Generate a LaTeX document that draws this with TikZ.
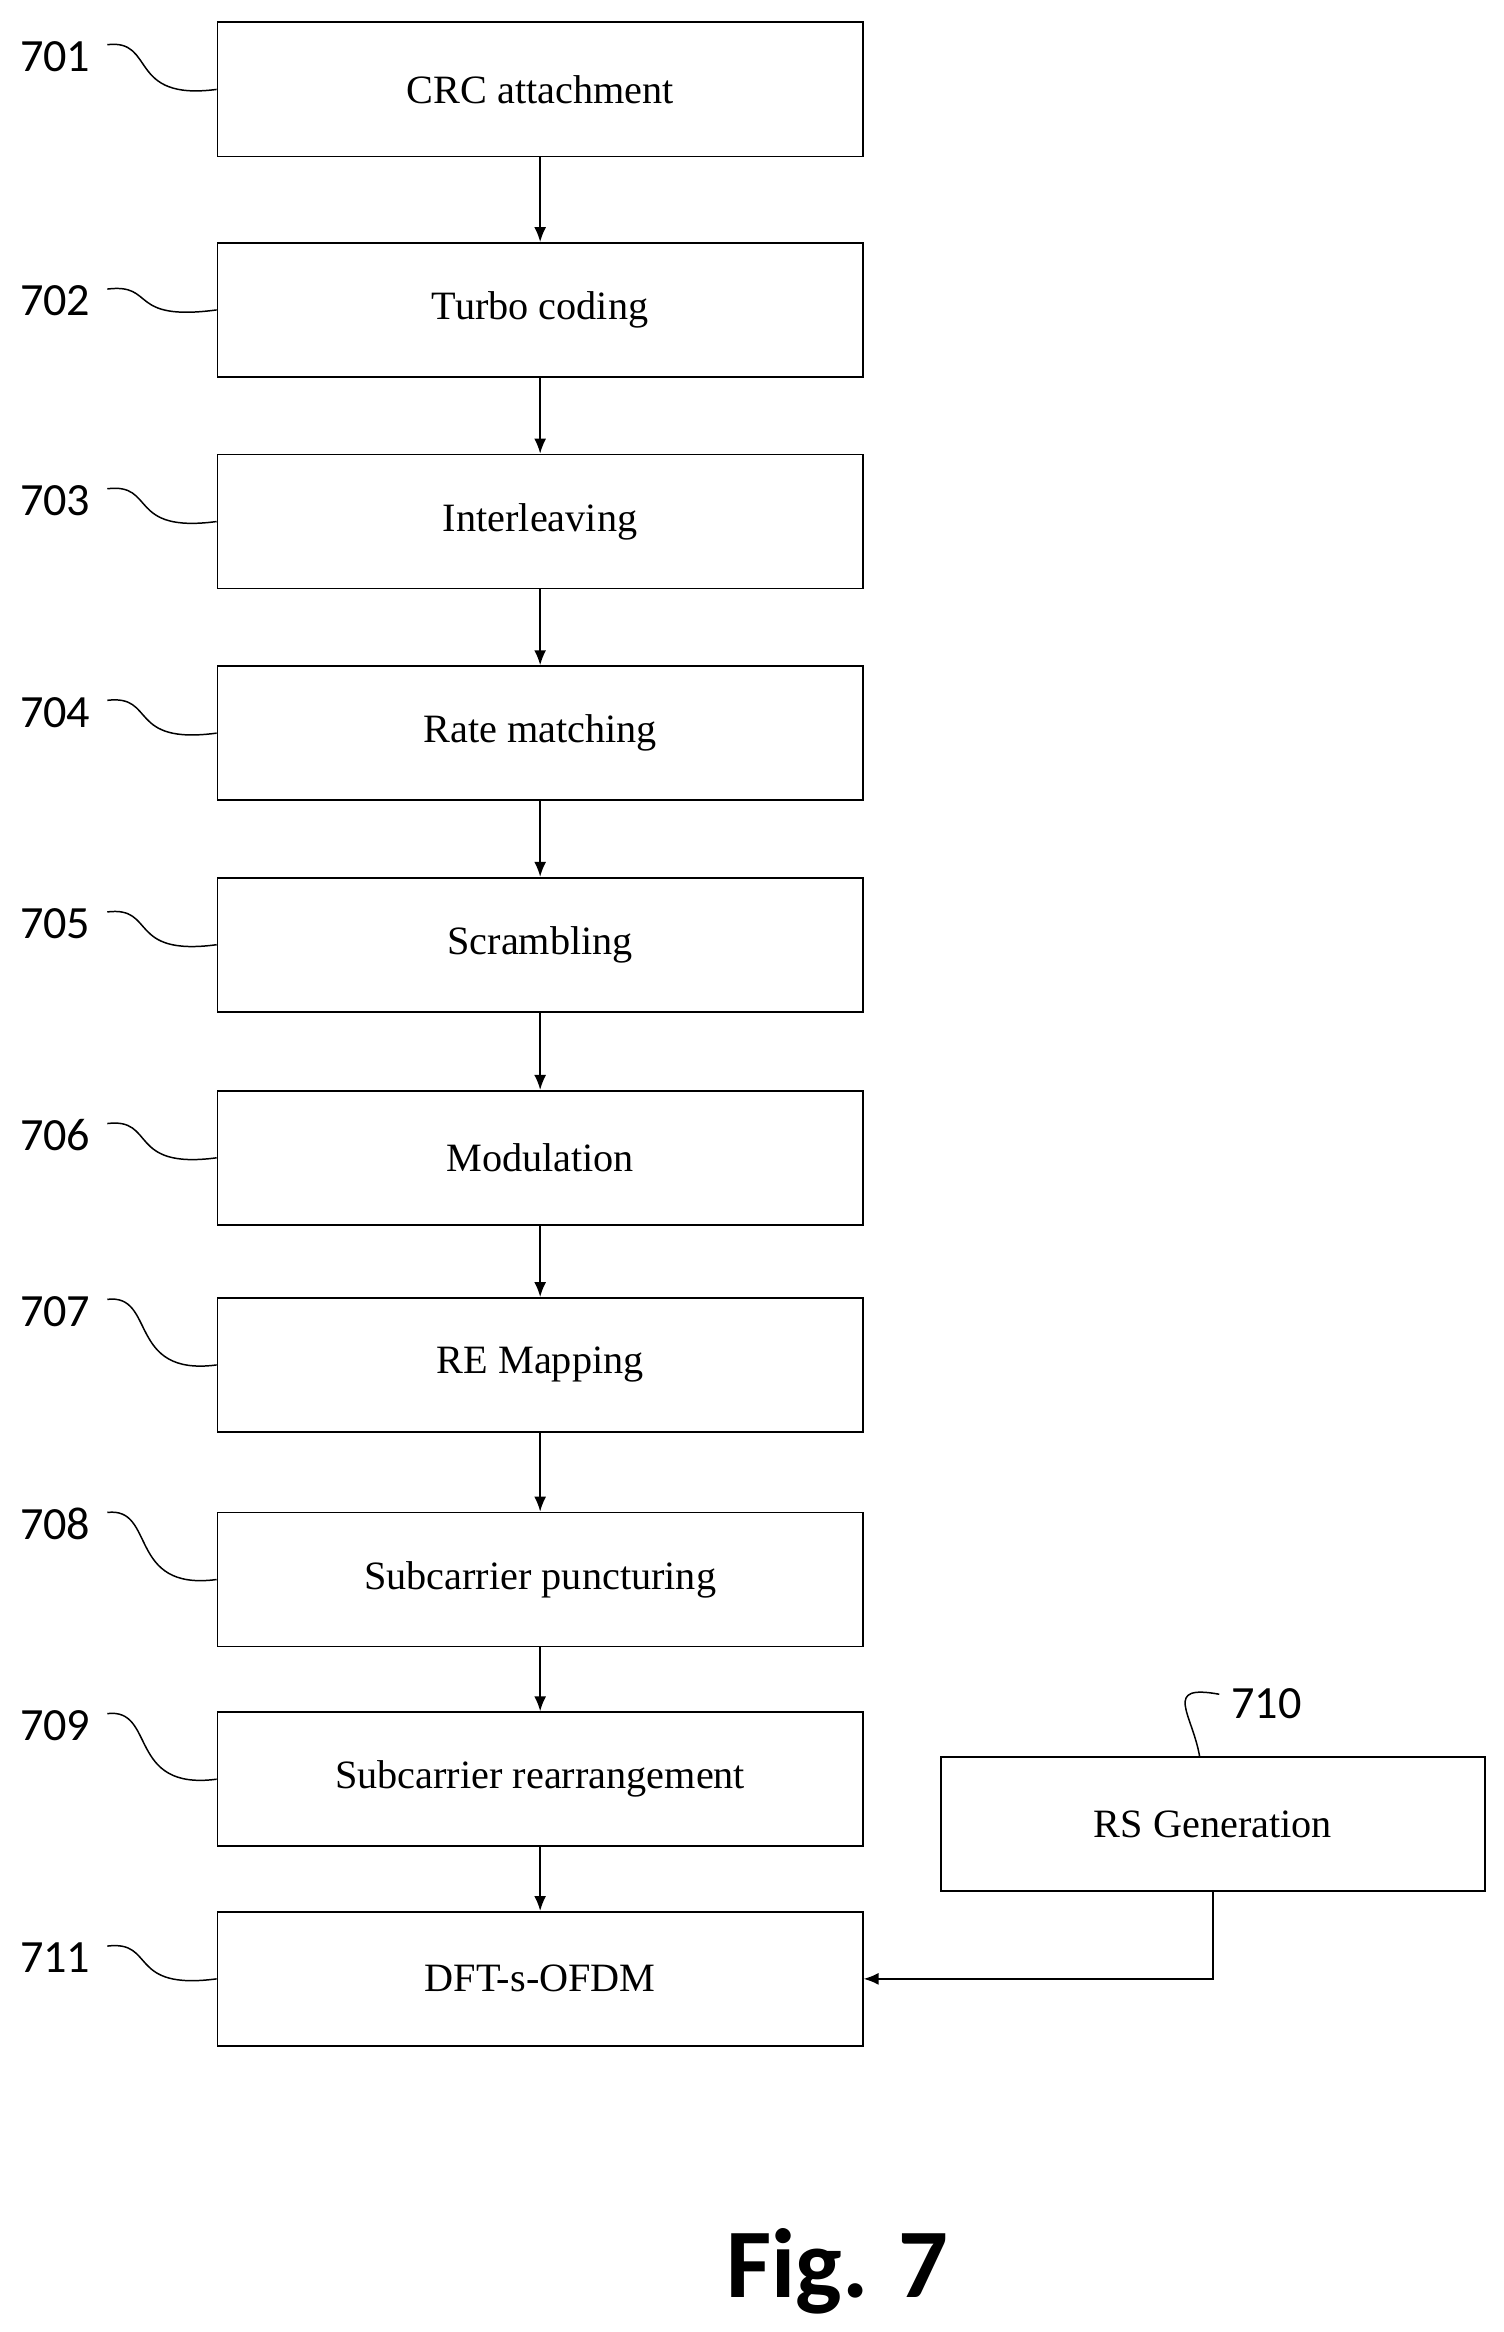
\documentclass[tikz,border=0pt]{standalone}
\usepackage{fontspec}
\usetikzlibrary{arrows.meta}
\setmainfont{Liberation Serif}
\newfontfamily\lblfont{Carlito}
\begin{document}
\begin{tikzpicture}[x=1pt,y=-1pt,
  box/.style={draw,line width=1.2pt,minimum width=433pt,minimum height=90pt,inner sep=0pt,font=\fontsize{27}{30}\selectfont},
  lbl/.style={font=\lblfont\fontsize{31}{33}\selectfont,inner sep=0pt},
  arr/.style={-{Latex[length=10pt,width=8pt]},line width=1.1pt},
  lead/.style={line width=1pt}]
\useasboundingbox (0,0) rectangle (1009,1565);
\node[box] (b1) at (362.5,60) {CRC attachment};
\node[box] (b2) at (362.5,208) {Turbo coding};
\node[box] (b3) at (362.5,350) {Interleaving};
\node[box] (b4) at (362.5,492) {Rate matching};
\node[box] (b5) at (362.5,634) {Scrambling};
\node[box] (b6) at (362.5,777) {Modulation};
\node[box] (b7) at (362.5,916) {RE Mapping};
\node[box] (b8) at (362.5,1060) {Subcarrier puncturing};
\node[box] (b9) at (362.5,1194) {Subcarrier rearrangement};
\node[box] (b11) at (362.5,1328) {DFT-s-OFDM};
\node[box,minimum width=365pt] (b10) at (814,1224) {RS Generation};
\foreach \a/\b in {b1/b2,b2/b3,b3/b4,b4/b5,b5/b6,b6/b7,b7/b8,b8/b9,b9/b11}
  \draw[arr] (\a.south) -- (\b.north);
\coordinate (c10) at (b10.south |- b11.east);
\draw[arr] (b10.south) -- (c10) -- (b11.east);
\foreach \n/\t/\y/\ly in {b1/701/38/60, b2/702/202/208, b3/703/336/350, b4/704/478/492, b5/705/620/634, b6/706/762/777, b7/707/880/916, b8/708/1023/1060, b9/709/1158/1194, b11/711/1314/1328}{
  \node[lbl] (l\t) at (37,\y) {\t};
  \draw[lead] (72,\y-8) .. controls (105,\y-12) and (85,\ly+8) .. (\n.west |- 0,\ly);
}
\node[lbl] (l710) at (850,1143) {710};
\draw[lead] (l710.west) ++(-8,-6) .. controls (780,1130) and (800,1150) .. (b10.north -| 805,0);
\node[font=\lblfont\bfseries\fontsize{66}{70}\selectfont] (fig) at (562,1524) {Fig. 7};
\end{tikzpicture}
\end{document}
